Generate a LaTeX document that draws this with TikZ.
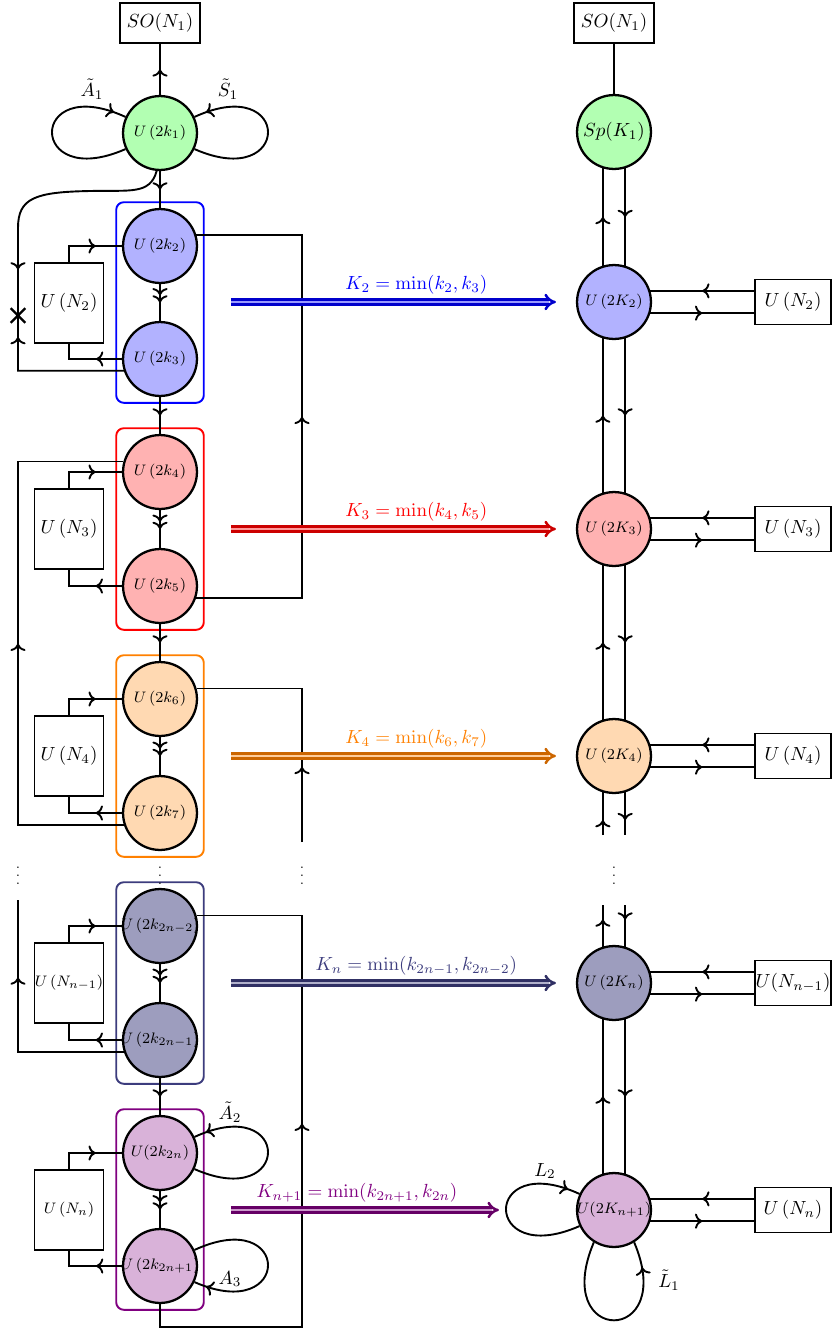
\documentclass[tikz,border=0pt]{standalone}
\usepackage{amsmath}
\usetikzlibrary{arrows.meta,decorations.markings,fit,shapes.misc}

\definecolor{slate}{RGB}{60,60,125}
\newcommand{\gtxt}[1]{\makebox[0pt]{$#1$}}

\begin{document}
\begin{tikzpicture}[
  x=0.5263pt, y=-0.5263pt,
  line width=1pt,
  gauge/.style={circle, draw, line width=1.2pt, minimum size=38.9pt, inner sep=0pt, font=\footnotesize},
  flav/.style={draw, line width=1pt, minimum width=36.3pt, minimum height=42.1pt, inner sep=0pt},
  rflav/.style={draw, line width=1pt, minimum width=40pt, minimum height=23.7pt, inner sep=0pt},
  grp/.style={draw=#1, rounded corners=4pt, line width=1pt, inner sep=3pt},
  kmap/.style={draw=#1!80!black, double=#1!40, double distance=1.5pt, line width=1.3pt, -{Implies}},
  fwd/.style={postaction={decorate, decoration={markings, mark=at position #1 with {\arrow{>}}}}},
  fwd/.default=0.5,
  twofwd/.style={postaction={decorate, decoration={markings, mark=at position #1 with {\arrow{>>}}}}},
  twofwd/.default=0.5,
  vdot/.style={font=\scriptsize, inner sep=0pt},
]
\useasboundingbox (0,0) rectangle (832,1331);

% rails and cut points
\coordinate (lrail) at (18,0);
\coordinate (rrail) at (302,0);
\coordinate (cut1) at (0,835);
\coordinate (cut2) at (0,842);
\coordinate (cut3) at (0,900);
\coordinate (cut4) at (0,1327);
\coordinate (cut5) at (0,905);

% ---- left quiver ----
\node[flav, minimum width=42.1pt, minimum height=21pt] (so1) at (160,23) {$SO(N_1)$};
\node[gauge, fill=green!30] (k1) at (160,133) {\gtxt{U\left(2k_1\right)}};
\node[gauge, fill=blue!30] (k2) at (160,246) {\gtxt{U\left(2k_2\right)}};
\node[gauge, fill=blue!30] (k3) at (160,359) {\gtxt{U\left(2k_3\right)}};
\node[gauge, fill=red!30] (k4) at (160,472) {\gtxt{U\left(2k_4\right)}};
\node[gauge, fill=red!30] (k5) at (160,586) {\gtxt{U\left(2k_5\right)}};
\node[gauge, fill=orange!30] (k6) at (160,699) {\gtxt{U\left(2k_6\right)}};
\node[gauge, fill=orange!30] (k7) at (160,813) {\gtxt{U\left(2k_7\right)}};
\node[gauge, fill=slate!50] (ka) at (160,926) {\gtxt{U\left(2k_{2n-2}\right)}};
\node[gauge, fill=slate!50] (kb) at (160,1040) {\gtxt{U\left(2k_{2n-1}\right)}};
\node[gauge, fill=violet!30] (kc) at (160,1153) {\gtxt{U(2k_{2n})}};
\node[gauge, fill=violet!30] (kd) at (160,1266) {\gtxt{U\left(2k_{2n+1}\right)}};

\node[grp=blue, fit=(k2)(k3)] (g2) {};
\node[grp=red, fit=(k4)(k5)] (g3) {};
\node[grp=orange, fit=(k6)(k7)] (g4) {};
\node[grp=slate, fit=(ka)(kb)] (gm) {};
\node[grp=violet, fit=(kc)(kd)] (gn) {};

\node[flav] (n2) at (69,303) {$U\left(N_2\right)$};
\node[flav] (n3) at (69,529) {$U\left(N_3\right)$};
\node[flav] (n4) at (69,756) {$U\left(N_4\right)$};
\node[flav, font=\footnotesize] (nm) at (69,983) {$U\left(N_{n-1}\right)$};
\node[flav, font=\footnotesize] (nn) at (69,1210) {$U\left(N_n\right)$};

\node[vdot] (d1) at (18,870) {$\vdots$};
\node[vdot] (d2) at (160,870) {$\vdots$};
\node[vdot] (d3) at (302,870) {$\vdots$};
\node[vdot] (d4) at (614,870) {$\vdots$};

% chain
\draw[fwd] (k1) -- (so1);
\draw[fwd] (k1) -- (k2);
\draw[twofwd] (k2) -- (k3);
\draw[fwd] (k3) -- (k4);
\draw[twofwd] (k4) -- (k5);
\draw[fwd] (k5) -- (k6);
\draw[twofwd] (k6) -- (k7);
\draw[twofwd] (ka) -- (kb);
\draw[fwd] (kb) -- (kc);
\draw[twofwd] (kc) -- (kd);

% flavour legs
\draw[fwd=0.62] (n2.north) |- (k2.west);
\draw[fwd=0.38] (k3.west) -| (n2.south);
\draw[fwd=0.62] (n3.north) |- (k4.west);
\draw[fwd=0.38] (k5.west) -| (n3.south);
\draw[fwd=0.62] (n4.north) |- (k6.west);
\draw[fwd=0.38] (k7.west) -| (n4.south);
\draw[fwd=0.62] (nm.north) |- (ka.west);
\draw[fwd=0.38] (kb.west) -| (nm.south);
\draw[fwd=0.62] (nn.north) |- (kc.west);
\draw[fwd=0.38] (kd.west) -| (nn.south);

% long bifundamentals
\draw[postaction={decorate, decoration={markings,
    mark=at position -109pt with {\arrow{>}},
    mark=at position -84.8pt with {\node[cross out, draw, line width=1.2pt, minimum size=6.5pt, inner sep=0pt] {};},
    mark=at position -69.6pt with {\arrow{<}}}}]
  (k1.265) .. controls (150,195) and (130,190) .. (90,191)
  .. controls (35,192) and (18,198) .. (18,228) -- (k3.198 -| lrail) -- (k3.198);
\draw[fwd] (k5.341) -- (k5.341 -| rrail) -- (k2.17 -| rrail) -- (k2.17);
\draw[fwd] (k7.199) -- (k7.199 -| lrail) -- (k4.164 -| lrail) -- (k4.164);
\draw[fwd=0.29] (cut2 -| rrail) -- (k6.16 -| rrail) -- (k6.16);
\draw[fwd=0.7] (kb.199) -- (kb.199 -| lrail) -- (cut3 -| lrail);
\draw[fwd=0.54] (kd.south) -- (kd.south |- cut4) -- (cut4 -| rrail) -- (ka.16 -| rrail) -- (ka.16);

% loops
\draw[fwd=0.93] (k1.205) .. controls +(-98,43) and +(-98,-45) .. (k1.155);
\draw[fwd=0.93] (k1.335) .. controls +(98,43) and +(98,-45) .. (k1.25);
\draw[fwd=0.93] (kc.335) .. controls +(98,43) and +(98,-45) .. (kc.25);
\draw[fwd=0.93] (kd.25) .. controls +(98,-45) and +(98,43) .. (kd.335);
\node (la1) at (92,89) {$\tilde{A}_1$};
\node (ls1) at (228,89) {$\tilde{S}_1$};
\node (la2) at (230,1112) {$\tilde{A}_2$};
\node (la3) at (230,1279) {$A_3$};

% ---- right quiver ----
\node[flav, minimum width=42.1pt, minimum height=21pt] (so2) at (614,23) {$SO(N_1)$};
\node[gauge, fill=green!30, font=\normalsize] (sp) at (614,132) {\gtxt{Sp(K_1)}};
\node[gauge, fill=blue!30] (K2) at (614,302) {\gtxt{U\left(2K_2\right)}};
\node[gauge, fill=red!30] (K3) at (614,529) {\gtxt{U\left(2K_3\right)}};
\node[gauge, fill=orange!30] (K4) at (614,756) {\gtxt{U\left(2K_4\right)}};
\node[gauge, fill=slate!50] (Kn) at (614,983) {\gtxt{U\left(2K_n\right)}};
\node[gauge, fill=violet!30] (Kp) at (614,1210) {\gtxt{U(2K_{n+1})}};

\node[rflav] (f2) at (793,302) {$U\left(N_2\right)$};
\node[rflav] (f3) at (793,529) {$U\left(N_3\right)$};
\node[rflav] (f4) at (793,756) {$U\left(N_4\right)$};
\node[rflav] (fm) at (793,983) {$U(N_{n-1})$};
\node[rflav] (fn) at (793,1210) {$U\left(N_n\right)$};

\draw (sp) -- (so2);
\draw[fwd] (K2.107) -- (sp.253);
\draw[fwd] (sp.287) -- (K2.73);
\draw[fwd] (K3.107) -- (K2.253);
\draw[fwd] (K2.287) -- (K3.73);
\draw[fwd] (K4.107) -- (K3.253);
\draw[fwd] (K3.287) -- (K4.73);
\draw[fwd=0.35] (K4.253 |- cut1) -- (K4.253);
\draw[fwd=0.65] (K4.287) -- (K4.287 |- cut1);
\draw[fwd=0.65] (Kn.107) -- (Kn.107 |- cut5);
\draw[fwd=0.35] (Kn.73 |- cut5) -- (Kn.73);
\draw[fwd] (Kp.107) -- (Kn.253);
\draw[fwd] (Kn.287) -- (Kp.73);

\draw[fwd] (K2.17 -| f2.west) -- (K2.17);
\draw[fwd] (K2.343) -- (K2.343 -| f2.west);
\draw[fwd] (K3.17 -| f3.west) -- (K3.17);
\draw[fwd] (K3.343) -- (K3.343 -| f3.west);
\draw[fwd] (K4.17 -| f4.west) -- (K4.17);
\draw[fwd] (K4.343) -- (K4.343 -| f4.west);
\draw[fwd] (Kn.17 -| fm.west) -- (Kn.17);
\draw[fwd] (Kn.343) -- (Kn.343 -| fm.west);
\draw[fwd] (Kp.17 -| fn.west) -- (Kp.17);
\draw[fwd] (Kp.343) -- (Kp.343 -| fn.west);

\draw[fwd=0.93] (Kp.205) .. controls +(-98,43) and +(-98,-45) .. (Kp.155);
\draw[fwd=0.86] (Kp.238) .. controls +(-44,104) and +(44,104) .. (Kp.302);
\node (ll2) at (545,1171) {$L_2$};
\node (ll1) at (669,1280) {$\tilde{L}_1$};

% ---- maps between the two quivers ----
\draw[kmap=blue, shorten <=13.7pt, shorten >=10.5pt] (g2.east |- K2.west) -- (K2.west)
  node[pos=0.57, above, text=blue] {$K_2 = \min(k_2,k_3)$};
\draw[kmap=red, shorten <=13.7pt, shorten >=10.5pt] (g3.east |- K3.west) -- (K3.west)
  node[pos=0.57, above, text=red] {$K_3 = \min(k_4,k_5)$};
\draw[kmap=orange, shorten <=13.7pt, shorten >=10.5pt] (g4.east |- K4.west) -- (K4.west)
  node[pos=0.57, above, text=orange] {$K_4 = \min(k_6,k_7)$};
\draw[kmap=slate, shorten <=13.7pt, shorten >=10.5pt] (gm.east |- Kn.west) -- (Kn.west)
  node[pos=0.57, above, text=slate] {$K_n = \min(k_{2n-1},k_{2n-2})$};
\draw[kmap=violet, shorten <=13.7pt, shorten >=40.5pt] (gn.east |- Kp.west) -- (Kp.west)
  node[pos=0.41, above, text=violet] {$K_{n+1} = \min(k_{2n+1},k_{2n})$};
\end{tikzpicture}
\end{document}
